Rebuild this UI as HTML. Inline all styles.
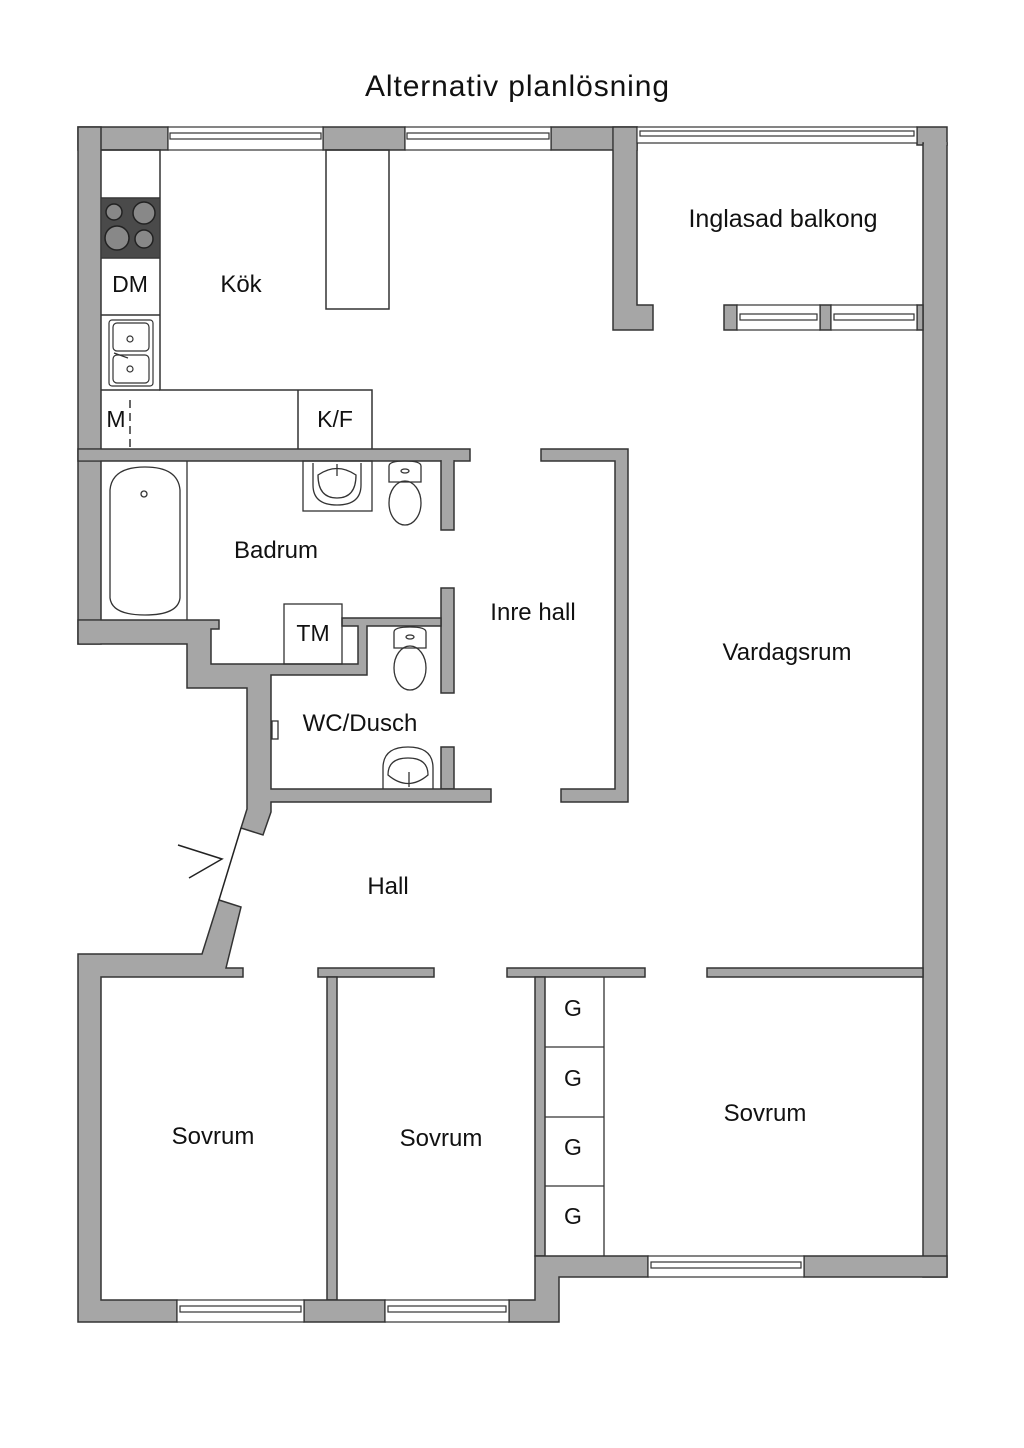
<!DOCTYPE html>
<html><head><meta charset="utf-8"><style>
html,body{margin:0;padding:0;background:#fff}
svg{display:block}
text{font-family:"Liberation Sans",sans-serif;fill:#111}
</style></head><body>
<svg width="1024" height="1448" viewBox="0 0 1024 1448" xmlns="http://www.w3.org/2000/svg">
<rect width="1024" height="1448" fill="#fff"/>
<text x="517" y="96" font-size="30" text-anchor="middle" textLength="304">Alternativ planlösning</text>

<g fill="#a6a6a6" stroke="#333" stroke-width="1.5">
<rect x="78" y="127" width="90" height="23"/>
<rect x="323" y="127" width="82" height="23"/>
<rect x="551" y="127" width="86" height="23"/>
<polygon points="613,150 613,330 653,330 653,305 637,305 637,127 613,127"/>
<rect x="917" y="127" width="30" height="18"/>
<polygon points="923,143 947,143 947,1277 923,1277"/>
<rect x="724" y="305" width="13" height="25"/>
<rect x="820" y="305" width="11" height="25"/>
<rect x="917" y="305" width="6" height="25"/>
<rect x="78" y="127" width="23" height="517"/>
<rect x="78" y="449" width="392" height="12"/>
<rect x="441" y="461" width="13" height="69"/>
<rect x="441" y="588" width="13" height="105"/>
<rect x="441" y="747" width="13" height="42"/>
<polygon points="78,620 219,620 219,629 211,629 211,664 358,664 358,626 342,626 342,618 441,618 441,626 367,626 367,675 271,675 271,789 491,789 491,802 271,802 271,812 263,835 241,828 247,809 247,688 187,688 187,644 78,644"/>
<polygon points="541,449 628,449 628,802 561,802 561,789 615,789 615,461 541,461"/>
<polygon points="219,900 241,907 226,968 243,968 243,977 101,977 101,1300 177,1300 177,1322 78,1322 78,954 202,954"/>
<rect x="318" y="968" width="116" height="9"/>
<rect x="327" y="977" width="10" height="323"/>
<rect x="507" y="968" width="138" height="9"/>
<rect x="535" y="977" width="10" height="279"/>
<rect x="707" y="968" width="216" height="9"/>
<rect x="304" y="1300" width="81" height="22"/>
<polygon points="509,1300 535,1300 535,1256 648,1256 648,1277 559,1277 559,1322 509,1322"/>
<rect x="804" y="1256" width="143" height="21"/>
</g>
<!-- hide internal seams -->
<g fill="#a6a6a6">
<rect x="79" y="449.8" width="21.3" height="10.5"/>
<rect x="79" y="620.8" width="21.3" height="22.5"/>
<rect x="441.8" y="460" width="11.5" height="2"/>
<rect x="613.8" y="128" width="22.5" height="22"/>
<rect x="924" y="142" width="22.5" height="3"/>
</g>

<g fill="#fff" stroke="#333" stroke-width="1.2">
<rect x="168" y="127" width="155" height="23"/><rect x="170" y="133" width="151" height="6"/>
<rect x="405" y="127" width="146" height="23"/><rect x="407" y="133" width="142" height="6"/>
<rect x="637" y="127" width="280" height="16"/><rect x="640" y="131" width="274" height="5"/>
<rect x="737" y="305" width="83" height="25"/><rect x="740" y="314" width="77" height="6"/>
<rect x="831" y="305" width="86" height="25"/><rect x="834" y="314" width="80" height="6"/>
<rect x="177" y="1300" width="127" height="22"/><rect x="180" y="1306" width="121" height="6"/>
<rect x="385" y="1300" width="124" height="22"/><rect x="388" y="1306" width="118" height="6"/>
<rect x="648" y="1256" width="156" height="21"/><rect x="651" y="1262" width="150" height="6"/>
</g>

<g fill="none" stroke="#333" stroke-width="1.5">
<polyline points="101,150 160,150 160,390 372,390 372,449"/>
<line x1="101" y1="198" x2="160" y2="198"/>
<line x1="101" y1="258" x2="160" y2="258"/>
<line x1="101" y1="315" x2="160" y2="315"/>
<line x1="101" y1="390" x2="160" y2="390"/>
<line x1="298" y1="390" x2="298" y2="449"/>
<line x1="130" y1="400" x2="130" y2="449" stroke-dasharray="8,5"/>
<rect x="326" y="150" width="63" height="159"/>
</g>
<rect x="101" y="198" width="59" height="60" fill="#4a4a4a" stroke="#333"/>
<g fill="#888" stroke="#222" stroke-width="1.5">
<circle cx="114" cy="212" r="8"/><circle cx="144" cy="213" r="11"/>
<circle cx="117" cy="238" r="12"/><circle cx="144" cy="239" r="9"/>
</g>
<g fill="none" stroke="#333" stroke-width="1.2">
<rect x="109" y="320" width="44" height="66" rx="3"/>
<rect x="113" y="323" width="36" height="28" rx="4"/>
<rect x="113" y="355" width="36" height="28" rx="4"/>
<circle cx="130" cy="339" r="3"/><circle cx="130" cy="369" r="3"/>
<line x1="114" y1="353" x2="128" y2="358"/>
</g>
<text x="130" y="292" font-size="23" text-anchor="middle">DM</text>
<text x="241" y="292" font-size="24" text-anchor="middle">Kök</text>
<text x="116" y="427" font-size="23" text-anchor="middle">M</text>
<text x="335" y="427" font-size="23" text-anchor="middle">K/F</text>

<g fill="none" stroke="#333" stroke-width="1.3">
<line x1="187" y1="461" x2="187" y2="620"/>
<path d="M110,490 Q112,467 145,467 Q178,467 180,490 L180,598 Q178,615 145,615 Q112,615 110,598 Z"/>
<circle cx="144" cy="494" r="3"/>
<rect x="303" y="461" width="69" height="50"/>
<path d="M313,463 L313,485 Q313,505 337,505 Q361,505 361,485 L361,463"/>
<path d="M318,475 Q337,462 356,475 Q356,498 337,498 Q318,498 318,475Z"/>
<line x1="337" y1="464" x2="337" y2="476"/>
<path d="M389,466 Q389,461 405,461 Q421,461 421,466 L421,482 L389,482 Z"/>
<ellipse cx="405" cy="503" rx="16" ry="22"/>
<ellipse cx="405" cy="471" rx="4" ry="2"/>
<rect x="284" y="604" width="58" height="60"/>
<path d="M394,632 Q394,627 410,627 Q426,627 426,632 L426,648 L394,648 Z"/>
<ellipse cx="410" cy="668" rx="16" ry="22"/>
<ellipse cx="410" cy="637" rx="4" ry="2"/>
<path d="M383,789 L383,768 Q383,747 408,747 Q433,747 433,768 L433,789"/>
<path d="M388,775 Q388,758 408,758 Q428,758 428,775 Q408,792 388,775Z"/>
<line x1="409" y1="772" x2="409" y2="787"/>
<rect x="272" y="721" width="6" height="18"/>
</g>
<g fill="none" stroke="#222" stroke-width="1.5">
<line x1="241" y1="828" x2="219" y2="900"/>
<polyline points="178,845 222,859 189,878"/>
</g>

<text x="276" y="558" font-size="24" text-anchor="middle">Badrum</text>
<text x="313" y="641" font-size="23" text-anchor="middle">TM</text>
<text x="360" y="731" font-size="24" text-anchor="middle">WC/Dusch</text>
<text x="533" y="620" font-size="24" text-anchor="middle">Inre hall</text>
<text x="787" y="660" font-size="24" text-anchor="middle">Vardagsrum</text>
<text x="783" y="227" font-size="25" text-anchor="middle">Inglasad balkong</text>
<text x="388" y="894" font-size="24" text-anchor="middle">Hall</text>

<g fill="none" stroke="#333" stroke-width="1.3">
<line x1="604" y1="977" x2="604" y2="1256"/>
<line x1="545" y1="1047" x2="604" y2="1047"/>
<line x1="545" y1="1117" x2="604" y2="1117"/>
<line x1="545" y1="1186" x2="604" y2="1186"/>
</g>
<g font-size="23" text-anchor="middle">
<text x="573" y="1016">G</text><text x="573" y="1086">G</text>
<text x="573" y="1155">G</text><text x="573" y="1224">G</text>
</g>
<text x="213" y="1144" font-size="24" text-anchor="middle">Sovrum</text>
<text x="441" y="1146" font-size="24" text-anchor="middle">Sovrum</text>
<text x="765" y="1121" font-size="24" text-anchor="middle">Sovrum</text>
</svg>
</body></html>
